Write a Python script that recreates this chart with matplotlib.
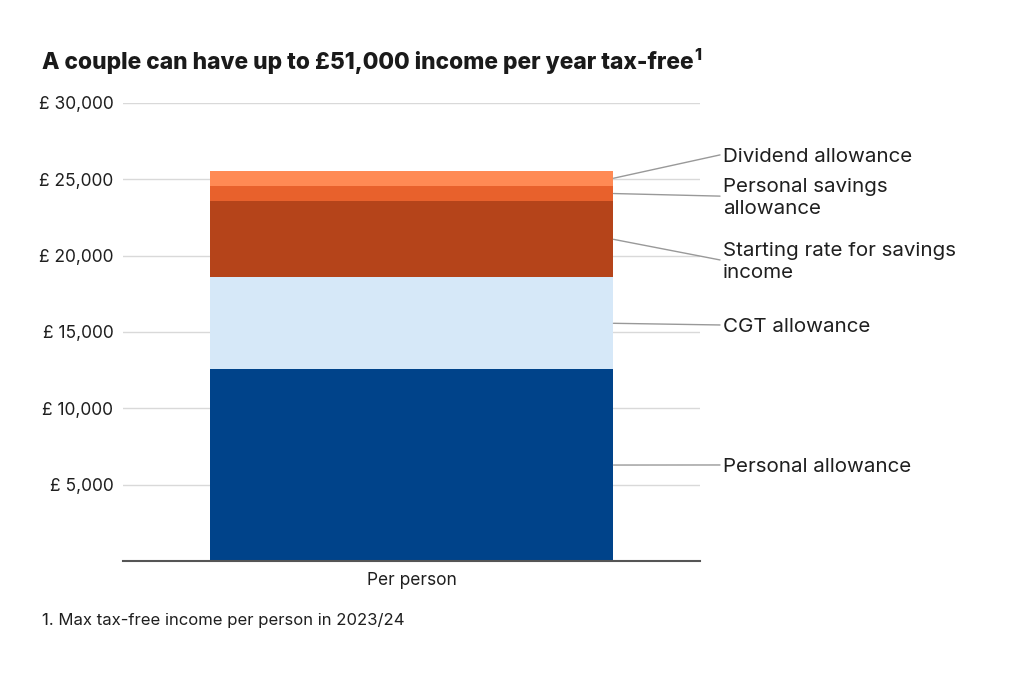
import matplotlib
matplotlib.use("Agg")
import matplotlib.pyplot as plt
from matplotlib.ticker import FuncFormatter

plt.rcParams['font.family'] = ['Inter', 'DejaVu Sans']

categories = ["Per person"]
segments = ["Personal allowance", "CGT allowance", "Starting rate for savings\nincome",
            "Personal savings\nallowance", "Dividend allowance"]
values = [12570, 6000, 5000, 1000, 1000]
colors = ["#00438A", "#D6E8F8", "#B5441A", "#E8612C", "#FF8A54"]
label_y = [6290, 15460, 19720, 23900, 26600]   # data y where leader lines end
yticks = [5000, 10000, 15000, 20000, 25000, 30000]

fig = plt.figure(figsize=(10.24, 6.76), dpi=100)
ax = fig.add_axes([123/1024, 1-561/676, 577/1024, 458/676])

bottom = 0
mids = []
for v, c in zip(values, colors):
    ax.bar(0, v, bottom=bottom, width=0.7, color=c, zorder=2, linewidth=0)
    mids.append(bottom + v / 2)
    bottom += v

ax.set_xlim(-0.5, 0.5)
ax.set_ylim(0, 30000)
ax.set_yticks(yticks)
ax.yaxis.set_major_formatter(FuncFormatter(lambda v, p: "£ {:,.0f}".format(v)))
ax.set_xticks([0])
ax.set_xticklabels(categories)
ax.tick_params(axis='both', length=0, labelsize=12.5, colors="#1f1f1f")
ax.tick_params(axis='y', pad=7)
ax.tick_params(axis='x', pad=8)
ax.grid(axis='y', color="#d9d9d9", linewidth=1, zorder=0)
for s in ['top', 'right', 'left']:
    ax.spines[s].set_visible(False)
ax.spines['bottom'].set_color("#555555")
ax.spines['bottom'].set_linewidth(1.5)
ax.spines['bottom'].set_zorder(3)

# leader lines and labels
x_line_end = (720 - 123) / 577 - 0.5
x_text = (723 - 123) / 577 - 0.5
for seg, m, ly in zip(segments, mids, label_y):
    ax.annotate("", xy=(0.35, m), xytext=(x_line_end, ly),
                xycoords='data', textcoords='data',
                arrowprops=dict(arrowstyle='-', color="#999999", lw=1,
                                shrinkA=0, shrinkB=0),
                annotation_clip=False)
    ax.annotate(seg, xy=(x_text, ly), xytext=(0, -2), textcoords='offset pixels',
                ha='left', va='center', fontsize=14.8,
                color="#1f1f1f", linespacing=1.3, annotation_clip=False)

# title with superscript
title = fig.text(42/1024, 1-62/676, "A couple can have up to £51,000 income per year tax-free",
                 fontsize=16.4, fontweight='heavy', color="#1a1a1a", va='center', ha='left')
fig.canvas.draw()
bb = title.get_window_extent()
fig.text(bb.x1/1024 + 1/1024, (bb.y1 + 3)/676, "1", fontsize=11.5, fontweight='heavy',
         color="#1a1a1a", va='top', ha='left')

fig.text(42/1024, 1-621/676, "1. Max tax-free income per person in 2023/24",
         fontsize=12, color="#1f1f1f", va='center', ha='left')

fig.savefig("out.png", dpi=100, facecolor="white")
